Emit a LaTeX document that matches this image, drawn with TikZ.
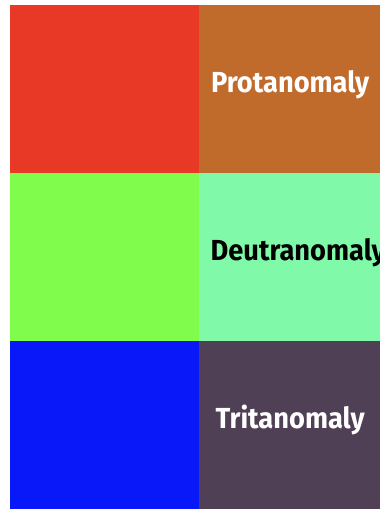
\documentclass[tikz,border=0pt]{standalone}
\usepackage{fontspec}
\setmainfont{Fira Sans}[FakeStretch=0.94]
\usepackage{tikz}
\usetikzlibrary{positioning}
\definecolor{redsw}{RGB}{232,56,38}
\definecolor{protsw}{RGB}{192,106,44}
\definecolor{greensw}{RGB}{128,252,76}
\definecolor{deutsw}{RGB}{128,250,168}
\definecolor{bluesw}{RGB}{8,24,248}
\definecolor{tritsw}{RGB}{80,64,86}
\tikzset{
  swatch/.style={draw=none,inner sep=0pt,minimum width=189pt,minimum height=168pt,anchor=north west},
  simlabel/.style={font=\bfseries\fontsize{29}{32}\selectfont,inner sep=0pt,anchor=base}
}
\begin{document}
\begin{tikzpicture}[x=1pt,y=1pt]
  \useasboundingbox (0,0) rectangle (380,509);
  \clip (0,0) rectangle (380,509);
  % original colour on the left, simulated colour on the right
  \foreach \i/\orig/\sim/\txt/\tc/\dx in {0/redsw/protsw/Protanomaly/white/0,
                                         1/greensw/deutsw/Deutranomaly/black/8,
                                         2/bluesw/tritsw/Tritanomaly/white/0} {
    \node[swatch,fill=\orig] (orig\i) at (10,504-168*\i) {};
    \node[swatch,fill=\sim,minimum width=182pt] (sim\i) at (199,504-168*\i) {};
    \node[simlabel,text=\tc] (lab\i) at ([xshift=\dx pt,yshift=-3pt]sim\i.center) {\txt};
  }
\end{tikzpicture}
\end{document}
